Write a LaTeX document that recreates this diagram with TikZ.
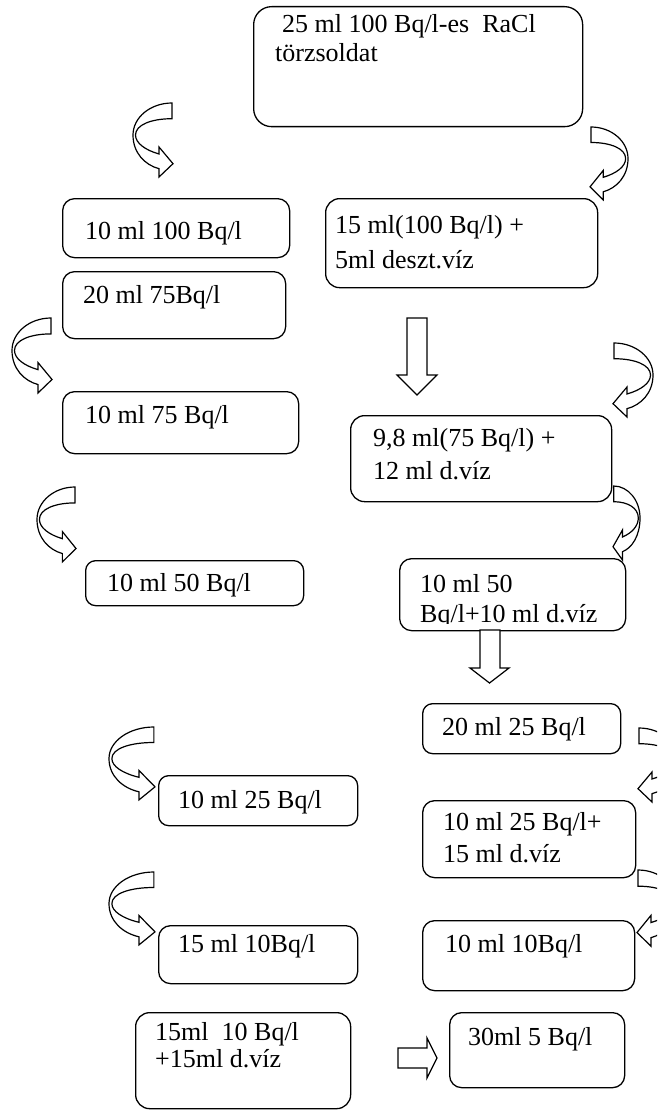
\documentclass[tikz,border=0pt]{standalone}
\usepackage{fontspec}
\setmainfont{Liberation Serif}
\begin{document}
\begin{tikzpicture}[x=1pt,y=-1pt,
  box/.style={draw, line width=1.3pt, inner sep=0pt, anchor=north west},
  txt/.style={inner sep=0pt, anchor=base west, font=\fontsize{26}{31}\selectfont},
  arrowline/.style={draw, line width=1.2pt, line join=miter, fill=white},
  pics/curvarr/.style={code={
    \draw[arrowline] (39,0) .. controls (17.5,0) and (0,14.4) .. (0,32)
      .. controls (0,50) and (12,62) .. (26,65.7) -- (26,74) -- (40,60.7) -- (26,44) -- (26,51)
      .. controls (12,47) and (2.5,40) .. (2.5,32)
      .. controls (2.5,22) and (18,15.7) .. (39,15.7) -- cycle;
  }}]
\useasboundingbox (0,0) rectangle (657,1110);
\clip (0,0) rectangle (657,1110);
\newcommand\bx[6]{\node[box, rounded corners=#6pt, minimum width={(#4-#2)*1pt}, minimum height={(#5-#3)*1pt}] (#1) at (#2,#3) {};}
% boxes
\bx{n1}{253}{6}{582}{126}{18}
\bx{n2}{62}{198}{289}{257}{12}
\bx{n3}{62}{271}{285}{338}{12}
\bx{n4}{325}{198}{597}{287}{14}
\bx{n5}{62}{391}{298}{453}{12}
\bx{n6}{350}{415}{611}{501}{14}
\bx{n7}{85}{560}{303}{605}{10}
\bx{n8}{399}{558}{625}{630}{12}
\bx{n9}{422}{703}{620}{753}{10}
\bx{n10}{158}{775}{357}{825}{10}
\bx{n11}{422}{800}{635}{877}{12}
\bx{n12}{158}{925}{357}{983}{12}
\bx{n13}{422}{920}{634}{990}{12}
\bx{n14}{135}{1012}{350}{1108}{14}
\bx{n15}{449}{1012}{624}{1087}{12}
% texts
\node[txt] (t1a) at (282,33) {25 ml 100 Bq/l-es\ \ RaCl};
\node[txt] (t1b) at (275,62) {törzsoldat};
\node[txt] (t2) at (85,239) {10 ml 100 Bq/l};
\node[txt] (t3) at (83,303) {20 ml 75Bq/l};
\node[txt] (t4a) at (335,233) {15 ml(100 Bq/l) +};
\node[txt] (t4b) at (335,268) {5ml deszt.víz};
\node[txt] (t5) at (85,423) {10 ml 75 Bq/l};
\node[txt] (t6a) at (373,446) {9,8 ml(75 Bq/l) +};
\node[txt] (t6b) at (373,479) {12 ml d.víz};
\node[txt] (t7) at (107,591) {10 ml 50 Bq/l};
\node[txt] (t8a) at (420,592) {10 ml 50};
\begin{scope}
\clip (399,558) rectangle (625,623);
\node[txt] (t8b) at (420,622) {Bq/l+10 ml d.víz};
\end{scope}
\node[txt] (t9) at (442,735) {20 ml 25 Bq/l};
\node[txt] (t10) at (178,808) {10 ml 25 Bq/l};
\node[txt] (t11a) at (443,830) {10 ml 25 Bq/l+};
\node[txt] (t11b) at (443,862) {15 ml d.víz};
\node[txt] (t12) at (178,952) {15 ml 10Bq/l};
\node[txt] (t13) at (445,952) {10 ml 10Bq/l};
\node[txt] (t14a) at (155,1040) {15ml\ \ 10 Bq/l};
\node[txt] (t14b) at (155,1067) {+15ml d.víz};
\node[txt] (t15) at (468,1045) {30ml 5 Bq/l};
% curved arrows
\pic at (133,103) {curvarr};
\pic[xscale=-0.95, yscale=0.986] at (628,127) {curvarr};
\pic[yscale=1.013] at (12,318) {curvarr};
\pic[xscale=-1] at (653,343) {curvarr};
\pic[xscale=0.975, yscale=1.013] at (37,487) {curvarr};
\pic[xscale=-0.675] at (640,486) {curvarr};
\pic[xscale=1.15, yscale=0.986] at (109,727) {curvarr};
\pic[xscale=1.15, yscale=0.986] at (109,872) {curvarr};
\pic[xscale=-1] at (678,728) {curvarr};
\pic[xscale=-1, yscale=1.03] at (677,870) {curvarr};
% block arrows
\draw[arrowline] (407,318) -- (427,318) -- (427,375) -- (437,375) -- (417,395) -- (397,375) -- (407,375) -- cycle;
\draw[arrowline] (480,630) -- (500,630) -- (500,668) -- (509,668) -- (489.5,683) -- (470,668) -- (480,668) -- cycle;
\draw[arrowline] (398,1048) -- (427,1048) -- (427,1038) -- (437,1058) -- (427,1078) -- (427,1068) -- (398,1068) -- cycle;
\end{tikzpicture}
\end{document}
